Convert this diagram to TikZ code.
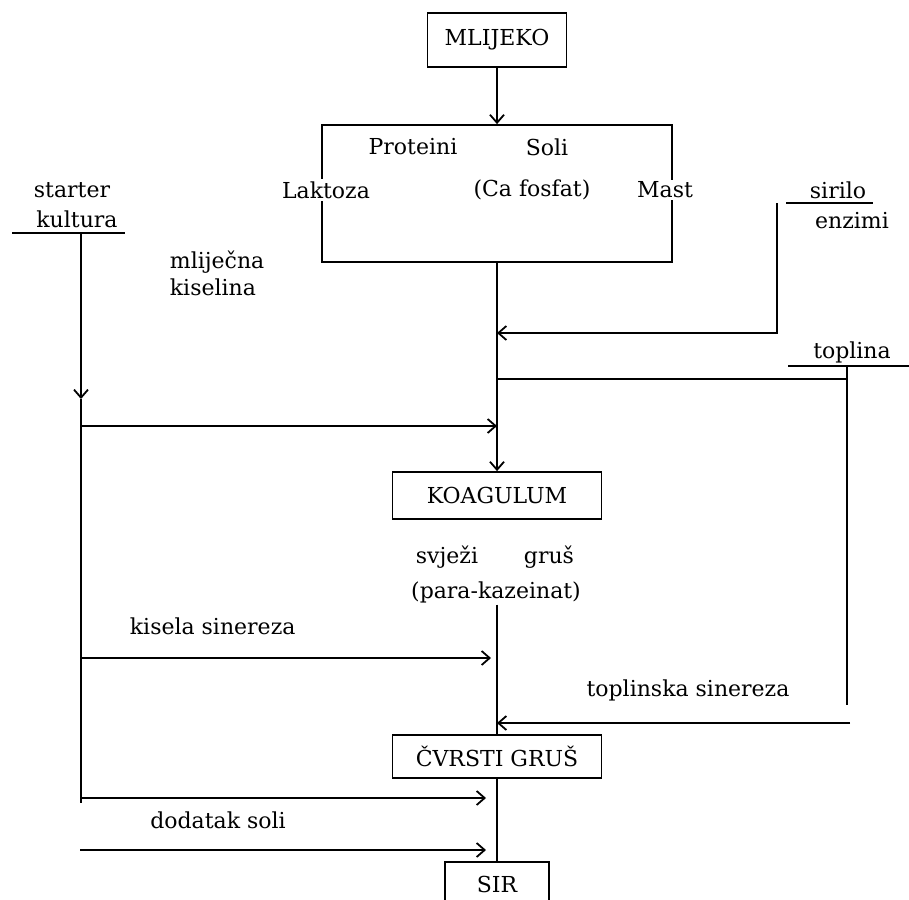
\documentclass[tikz,border=0pt]{standalone}
\usepackage{fontspec}
\setmainfont{DejaVu Serif}
\usetikzlibrary{arrows.meta,positioning,calc}
\tikzstyle{procbox}=[draw,rectangle,inner sep=0pt]
\tikzstyle{lbl}=[inner sep=1pt]
\tikzstyle{gaplbl}=[inner sep=2pt,fill=white]
\tikzstyle{flow}=[-{Straight Barb[length=8pt,width=14pt]}]

\begin{document}
\begin{tikzpicture}[x=1pt,y=-1pt,line width=1.8pt,font=\fontsize{22}{26}\selectfont]
    \useasboundingbox (0,0) rectangle (909,899);
    % process boxes
    \node [procbox,minimum width=139pt,minimum height=54pt] (mlijeko) at (497,40) {MLIJEKO};
    \node [procbox,minimum width=350pt,minimum height=137pt] (mix) at (497,193.5) {};
    \node [procbox,minimum width=209pt,minimum height=47pt] (koagulum) at (497,495.5) {KOAGULUM};
    \node [procbox,minimum width=209pt,minimum height=43pt] (cvrsti) at (497,756.5) {ČVRSTI GRUŠ};
    \node [procbox,minimum width=104pt,minimum height=46pt,anchor=north] (sir) at (497,861) {SIR};
    % contents of milk
    \node [lbl] (proteini) at (413,147) {Proteini};
    \node [lbl] (soli) at (547,147) {Soli};
    \node [gaplbl] (laktoza) at (326,190) {Laktoza};
    \node [lbl] (cafosfat) at (532,190) {(Ca fosfat)};
    \node [gaplbl] (mast) at (665,190) {Mast};
    % side labels
    \node [lbl] (starter) at (72,190) {starter};
    \node [lbl] (kultura) at (77,219) {kultura};
    \node [lbl,anchor=west] (mlijecna) at (168,262) {mliječna};
    \node [lbl,anchor=west] (kiselina) at (168,287) {kiselina};
    \node [lbl] (sirilo) at (838,190) {sirilo};
    \node [lbl] (enzimi) at (852,221) {enzimi};
    \node [lbl] (toplina) at (852,352) {toplina};
    \node [lbl] (svjezi) at (447,557) {svježi};
    \node [lbl] (grus) at (549,557) {gruš};
    \node [lbl] (parakaz) at (496,592) {(para-kazeinat)};
    \node [lbl,anchor=west] (kisela) at (128,626) {kisela sinereza};
    \node [lbl] (toplsin) at (688,690) {toplinska sinereza};
    \node [lbl] (dodatak) at (218,820) {dodatak soli};
    % feed lines
    \coordinate (starA) at (12,233);
    \coordinate (starB) at (125,233);
    \coordinate (startop) at (81,233);
    \coordinate (starv) at (81,399);
    \coordinate (starbot) at (81,803);
    \coordinate (sirA) at (786,203);
    \coordinate (sirB) at (873,203);
    \coordinate (sirtop) at (777,203);
    \coordinate (sirbend) at (777,333);
    \coordinate (toplA) at (788,366);
    \coordinate (toplB) at (909,366);
    \coordinate (topltop) at (847,366);
    \coordinate (toplj) at (847,379);
    \coordinate (toplend) at (847,705);
    \coordinate (toplarr) at (850,723);
    \coordinate (acid) at (81,426);
    \coordinate (kisarr) at (81,658);
    \coordinate (soliA) at (81,798);
    \coordinate (soliB) at (80,850);
    % main flow
    \draw [flow] (mlijeko.south) -- (mlijeko.south |- mix.north);
    \draw [flow] (mix.south) -- (mix.south |- koagulum.north);
    \draw (cvrsti.north |- parakaz.south) -- (cvrsti.north);
    \draw (cvrsti.south) -- (cvrsti.south |- sir.north);
    % starter kultura
    \draw (starA) -- (starB);
    \draw [flow] (startop) -- (starv);
    \draw (starv) -- (starbot);
    \draw [flow] (acid) -- (acid -| mix.south);
    \draw [flow,shorten >=6pt] (kisarr) -- (kisarr -| mix.south);
    \draw [flow,shorten >=11pt] (soliA) -- (soliA -| mix.south);
    \draw [flow,shorten >=11pt] (soliB) -- (soliB -| mix.south);
    % sirilo
    \draw (sirA) -- (sirB);
    \draw [flow] (sirtop) -- (sirbend) -- (sirbend -| mix.south);
    % toplina
    \draw (toplA) -- (toplB);
    \draw (topltop) -- (toplend);
    \draw (toplj) -- (toplj -| mix.south);
    \draw [flow] (toplarr) -- (toplarr -| mix.south);
\end{tikzpicture}
\end{document}
